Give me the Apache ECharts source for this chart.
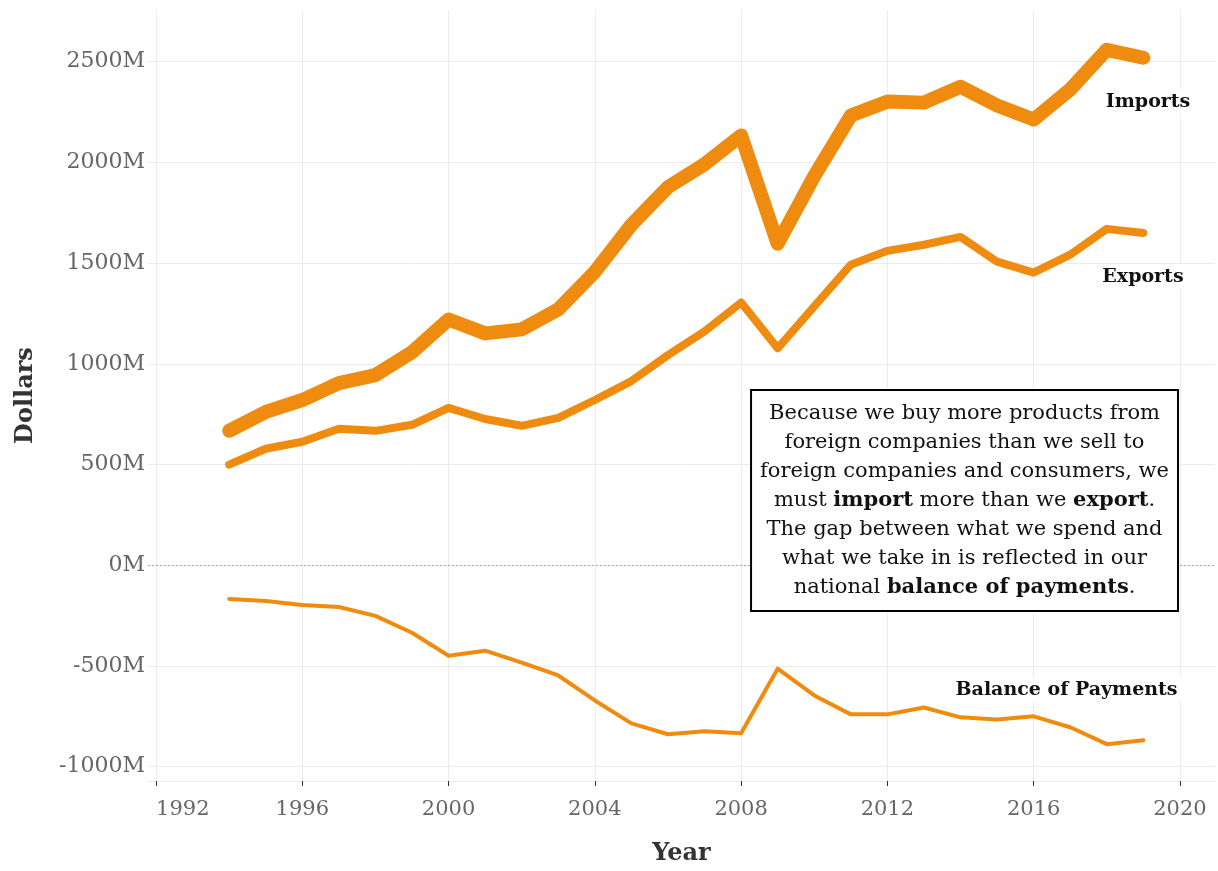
<!DOCTYPE html>
<html>
<head>
<meta charset="utf-8">
<script src="https://cdn.jsdelivr.net/npm/echarts@6/dist/echarts.min.js"></script>
<style>html,body{margin:0;padding:0;background:#fff}#c{width:1218px;height:871px}</style>
</head>
<body>
<div id="c"></div>
<script>
const years = [1994,1995,1996,1997,1998,1999,2000,2001,2002,2003,2004,2005,2006,2007,2008,2009,2010,2011,2012,2013,2014,2015,2016,2017,2018,2019];
const imports = [667,761,820,904,944,1057,1220,1151,1171,1270,1457,1690,1877,1991,2134,1596,1932,2233,2302,2297,2376,2283,2213,2362,2559,2520];
const exports_ = [499,578,613,677,667,697,781,726,692,731,820,914,1043,1161,1304,1077,1285,1492,1561,1591,1630,1507,1453,1542,1670,1650];
const balance = [-168,-178,-198,-208,-252,-336,-450,-425,-484,-548,-672,-786,-840,-825,-835,-514,-647,-741,-741,-707,-756,-766,-751,-805,-889,-870];
const xTicks = [1992,1996,2000,2004,2008,2012,2016,2020];
const yTicks = [-1000,-500,0,500,1000,1500,2000,2500];
const seriesNames = ['Imports','Exports','Balance of Payments'];
const note = 'Because we buy more products from\nforeign companies than we sell to\nforeign companies and consumers, we\nmust {b|import} more than we {b|export}.\nThe gap between what we spend and\nwhat we take in is reflected in our\nnational {b|balance of payments}.';

const FONT = 'DejaVu Serif';
const ORANGE = '#EF8C10';
const pair = (arr) => years.map((y, i) => [y, arr[i]]);

function tagPoint(name, coord) {
  return {
    coord: coord, symbol: 'circle', symbolSize: 0,
    label: {
      show: true, position: 'inside', formatter: name,
      fontFamily: FONT, fontWeight: 'bold', fontSize: 19, color: '#111',
      backgroundColor: '#fff', padding: [3, 6]
    }
  };
}

const chart = echarts.init(document.getElementById('c'), null, {renderer: 'canvas'});
chart.setOption({
  animation: false,
  backgroundColor: '#fff',
  grid: {left: 148, right: 3, top: 10, bottom: 83},
  xAxis: {
    type: 'value', min: 1991.78, max: 2020.96,
    name: 'Year', nameLocation: 'middle', nameGap: 61,
    nameTextStyle: {fontFamily: FONT, fontWeight: 'bold', fontSize: 24, color: '#333'},
    axisLine: {show: true, onZero: false, lineStyle: {color: '#ebebeb', width: 1}},
    axisTick: {show: true, customValues: xTicks, length: 5, lineStyle: {color: '#333'}},
    axisLabel: {customValues: xTicks, fontFamily: FONT, fontSize: 21, color: '#666', margin: 18,
      alignMinLabel: 'left', formatter: v => String(v)},
    splitLine: {show: true, lineStyle: {color: '#ebebeb', width: 1}}
  },
  yAxis: {
    type: 'value', min: -1072, max: 2757,
    name: 'Dollars', nameLocation: 'middle', nameGap: 110,
    nameTextStyle: {fontFamily: FONT, fontWeight: 'bold', fontSize: 24, color: '#333'},
    axisLine: {show: false},
    axisTick: {show: false, customValues: yTicks},
    axisLabel: {customValues: yTicks, fontFamily: FONT, fontSize: 22, color: '#666', margin: 3,
      formatter: v => v + 'M'},
    splitLine: {show: true, lineStyle: {color: '#ebebeb', width: 1}}
  },
  series: [
    {
      name: seriesNames[2], type: 'line', data: pair(balance), showSymbol: false, symbol: 'none',
      lineStyle: {color: ORANGE, width: 4, cap: 'round', join: 'round'}, z: 3,
      markLine: {
        silent: true, symbol: 'none', label: {show: false},
        lineStyle: {color: '#aaa', type: [2, 2], width: 1},
        data: [{yAxis: 0}], z: 1
      },
      markPoint: {
        z: 10,
        data: [
          tagPoint(seriesNames[2], [2016.9, -618]),
          {
            coord: [2014.11, 321], symbol: 'circle', symbolSize: 0,
            label: {
              show: true, position: 'inside', formatter: note,
              fontFamily: FONT, fontSize: 21, color: '#111', lineHeight: 29, align: 'center',
              backgroundColor: '#fff', borderColor: '#000', borderWidth: 2, padding: [8, 8],
              rich: {b: {fontFamily: FONT, fontSize: 21, fontWeight: 'bold', color: '#111', lineHeight: 29}}
            }
          }
        ]
      }
    },
    {
      name: seriesNames[1], type: 'line', data: pair(exports_), showSymbol: false, symbol: 'none',
      lineStyle: {color: ORANGE, width: 8, cap: 'round', join: 'round'}, z: 4,
      markPoint: {z: 10, data: [tagPoint(seriesNames[1], [2018.99, 1433])]}
    },
    {
      name: seriesNames[0], type: 'line', data: pair(imports), showSymbol: false, symbol: 'none',
      lineStyle: {color: ORANGE, width: 14, cap: 'round', join: 'round'}, z: 5,
      markPoint: {z: 10, data: [tagPoint(seriesNames[0], [2019.13, 2302])]}
    }
  ]
});
</script>
</body>
</html>
